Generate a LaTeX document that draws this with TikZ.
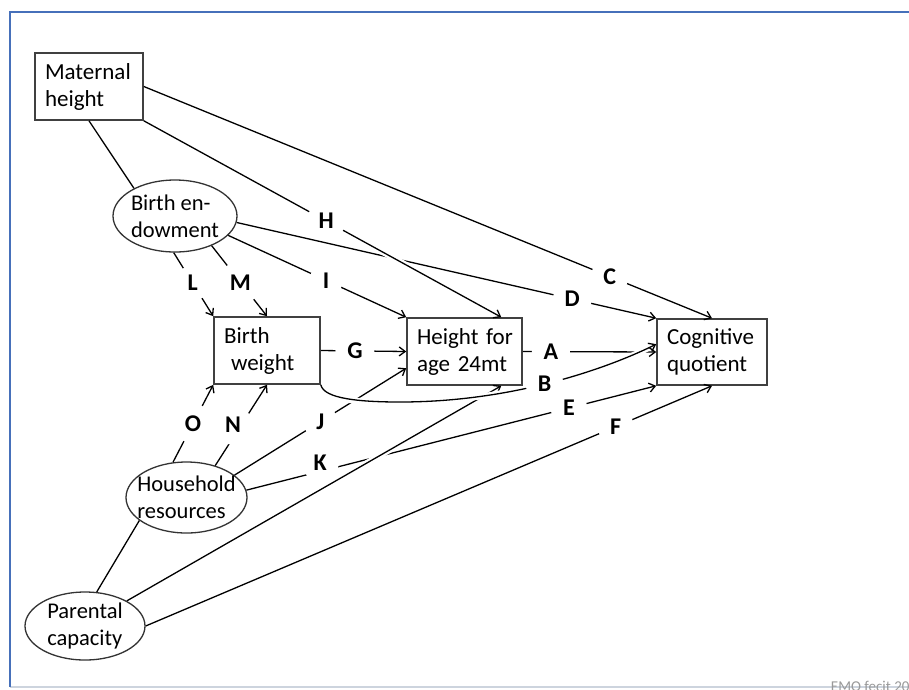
\documentclass[tikz,border=0pt]{standalone}
\usepackage{fontspec}
\setmainfont{Carlito}
\usetikzlibrary{shapes.geometric,arrows.meta}
\definecolor{slideblue}{RGB}{70,112,186}
\definecolor{slidegray}{RGB}{205,212,222}

\begin{document}
\begin{tikzpicture}[x=1pt,y=-1pt,line width=1.3pt,
	>={Straight Barb[length=6pt,width=9pt]},
	box/.style={draw=black!75,line width=1.6pt,rectangle,minimum height=67pt,inner xsep=10pt,align=left,font=\fontsize{23}{27}\selectfont},
	oval/.style={draw=black!80,line width=1.3pt,ellipse,inner sep=0pt},
	txt/.style={align=left,font=\fontsize{22.5}{27}\selectfont},
	lbl/.style={circle,fill=white,inner sep=6pt,font=\fontsize{24}{24}\bfseries\selectfont},
	halo/.style={preaction={draw=white,line width=6pt,-,shorten <=10pt,shorten >=10pt}}]
	\useasboundingbox (0,0) rectangle (909,689);
	\fill[white] (0,0) rectangle (909,689);
	\draw[slidegray,line width=1.5pt] (10,687) -- (909,687);
	\draw[slideblue,line width=2pt] (909,12) -- (10,12) -- (10,687);
	\node[anchor=base west,text=black!40,font=\fontsize{15}{15}\selectfont] (sig) at (827,691) {EMO fecit 20};

	\node[box,text width=88pt] (mh) at (89,86.5) {Maternal\\height};
	\node[box,text width=86pt] (bw) at (267,350.5) {Birth\\\hspace*{7pt}weight};
	\node[box,text width=95pt] (ha) at (464.5,351.5) {\mbox{Height for}\\\mbox{age 24mt}};
	\node[box,text width=90pt,minimum height=66pt] (cq) at (712,352) {Cognitive\\quotient};
	\node[oval,minimum width=124pt,minimum height=72pt,label={[txt]center:Birth en-\\dowment}] (be) at (175,216) {};
	\node[oval,minimum width=121pt,minimum height=71pt,label={[txt]center:Household\\resources}] (hr) at (186.5,497.5) {};
	\node[oval,minimum width=120pt,minimum height=68pt,label={[txt]center:Parental\\capacity}] (pc) at (85,626) {};

	\draw (mh.south) -- (be.146);
	\draw[->] (mh.east) -- node[lbl,pos=0.82] {C} (cq.north);
	\draw[->] (be.-6) -- node[lbl,pos=0.8] {D} (cq.north west);
	\draw[->,halo] (mh.south east) -- node[lbl,pos=0.51] {H} (ha.43);
	\draw[->] (be.-20) -- node[lbl,pos=0.55] {I} (ha.north west);
	\draw[->] (be.-92) -- node[lbl,pos=0.48] {L} (bw.north west);
	\draw[->] (be.-39) -- node[lbl,pos=0.52] {M} (bw.north);
	\draw[->] (bw.east) -- node[lbl,pos=0.4] {G} (ha.west);
	\draw[->] (ha.east) -- node[lbl,pos=0.21] {A} (cq.west);
	\draw[->] (hr.111) -- node[lbl,pos=0.5] {O} (bw.south west);
	\draw[->] (hr.48) -- node[lbl,pos=0.5,xshift=-8pt] {N} (bw.south);
	\draw[->] (hr.25) -- node[lbl,pos=0.5] {J} (ha.196);
	\draw[->] (hr.7) -- node[lbl,pos=0.18,yshift=9pt] {K} node[lbl,pos=0.787] {E} (cq.south west);
	\draw (hr.206) -- (pc.71);
	\draw[->,halo] (pc.31) -- (ha.-43);
	\draw[->] (pc.east) -- node[lbl,pos=0.83] {F} (cq.south);
	\draw[->,halo] (bw.south east) .. controls +(3,14) and +(-40,0) .. (400,402) .. controls +(120,0) and +(-40,20) .. node[lbl,pos=0.45] {B} (cq.172);
\end{tikzpicture}
\end{document}
